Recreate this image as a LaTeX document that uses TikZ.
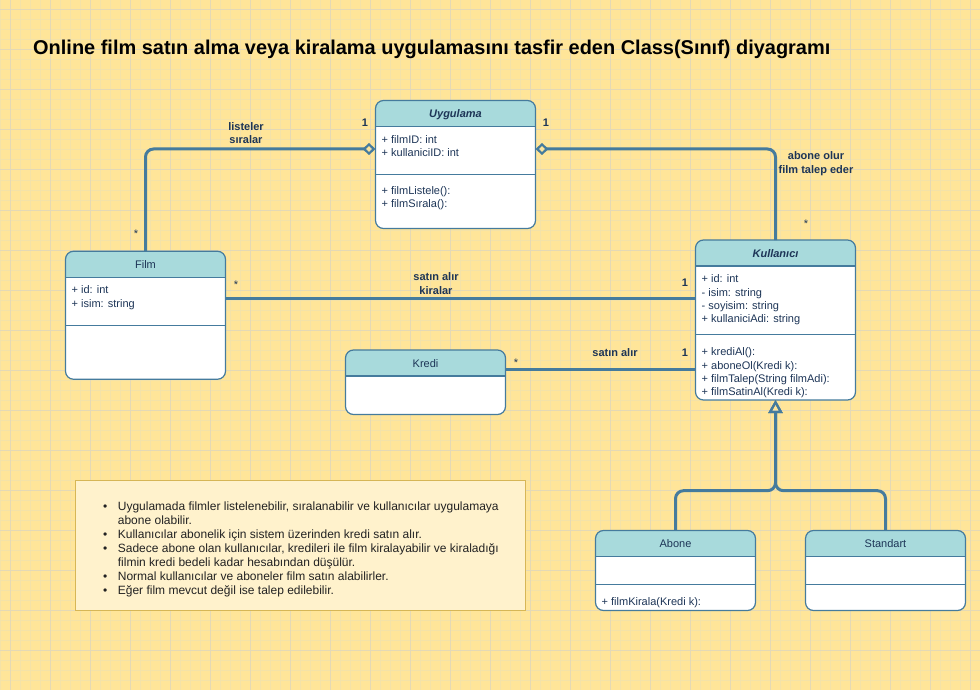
\documentclass[tikz,border=0pt]{standalone}
\usepackage{fontspec}
\setmainfont{Liberation Sans}
\usetikzlibrary{arrows.meta,calc}
\definecolor{bgc}{HTML}{FFE599}
\definecolor{gridminor}{HTML}{F4E2A8}
\definecolor{gridmajor}{HTML}{E4D9B6}
\definecolor{hdrc}{HTML}{A8DADC}
\definecolor{strokec}{HTML}{457B9D}
\definecolor{txtc}{HTML}{1D3557}
\definecolor{notefill}{HTML}{FFF2CC}
\definecolor{notestroke}{HTML}{D6B656}
\definecolor{notetext}{HTML}{222222}
\tikzset{
  classbody/.style={fill=white, rectangle, rounded corners=8pt, inner sep=0pt, outer sep=0pt},
  boxline/.style={draw=strokec, line width=1.2pt},
  conn/.style={draw=strokec, line width=3pt, rounded corners=8pt},
  memb/.style={anchor=base west, text=txtc, font=\fontsize{11}{13}\selectfont, inner sep=0pt},
  hdrtxt/.style={anchor=base, text=txtc, font=\fontsize{11}{13}\selectfont, inner sep=0pt},
  hdrabs/.style={anchor=base, text=txtc, font=\fontsize{11}{13}\selectfont\bfseries\itshape, inner sep=0pt},
  elabel/.style={text=txtc, font=\fontsize{11}{13.4}\selectfont\bfseries, align=center, inner sep=0pt},
  mult/.style={text=txtc, font=\fontsize{11}{13}\selectfont\bfseries, inner sep=0pt},
  starlbl/.style={text=txtc, font=\fontsize{11}{13}\selectfont, inner sep=0pt},
  notetxt/.style={anchor=base west, text=notetext, font=\fontsize{12}{14}\selectfont, inner sep=0pt},
  diam/.tip={Diamond[open, length=13pt, width=12pt, line width=2.2pt]},
  tri/.tip={Triangle[open, length=13pt, width=14pt, line width=2.2pt]},
}
\newcommand{\umlclassbox}[6]{%
  \node[classbody, minimum width=#3pt, minimum height=#4pt] (#1) at (#2) {};
  \begin{scope}
    \clip[rounded corners=8pt] (#1.north west) rectangle (#1.south east);
    \fill[hdrc] (#1.north west) rectangle ($(#1.north east)+(0,26)$);
  \end{scope}
  \draw[boxline, rounded corners=8pt] (#1.north west) rectangle (#1.south east);
  \draw[boxline] ($(#1.north west)+(0,26)$) -- ($(#1.north east)+(0,26)$);
  \node[#5] (#1-t) at ($(#1.north)+(0,17)$) {#6};
}
\newcommand{\umldivider}[2]{%
  \draw[boxline] ($(#1.north west)+(0,#2)$) -- ($(#1.north east)+(0,#2)$);
}
\begin{document}
\begin{tikzpicture}[x=1pt, y=-1pt]
\useasboundingbox (0,0) rectangle (980,690);
\fill[bgc] (0,0) rectangle (980,690);
% grid
\foreach \x in {0,10,...,980} \draw[gridminor, line width=1pt] (\x,0) -- (\x,690);
\foreach \y in {0,10,...,690} \draw[gridminor, line width=1pt] (0,\y) -- (980,\y);
\foreach \x in {10,50,...,970} \draw[gridmajor, line width=1pt] (\x,0) -- (\x,690);
\foreach \y in {10,50,...,690} \draw[gridmajor, line width=1pt] (0,\y) -- (980,\y);

% title
\node[anchor=base west, inner sep=0pt, font=\fontsize{19.95}{23}\selectfont\bfseries, text=black] (title) at (33,55)
  {Online film satın alma veya kiralama uygulamasını tasfir eden Class(Sınıf) diyagramı};

% classes
\umlclassbox{uyg}{455.5,164.5}{160}{128}{hdrabs}{Uygulama}
\umldivider{uyg}{74}
\node[memb] (uyg-a1) at ($(uyg.north west)+(6,42.5)$) {+ filmID: int};
\node[memb] (uyg-a2) at ($(uyg.north west)+(6,55.9)$) {+ kullaniciID: int};
\node[memb] (uyg-m1) at ($(uyg.north west)+(6,93.5)$) {+ filmListele():};
\node[memb] (uyg-m2) at ($(uyg.north west)+(6,106.9)$) {+ filmSırala():};

\umlclassbox{film}{145.5,315.25}{160}{128}{hdrtxt}{Film}
\umldivider{film}{74}
\node[memb] (film-a1) at ($(film.north west)+(6,42.7)$) {+ id: int};
\node[memb] (film-a2) at ($(film.north west)+(6,56.1)$) {+ isim: string};

\umlclassbox{kul}{775.5,320}{160}{160}{hdrabs}{Kullanıcı}
\umldivider{kul}{94.3}
\node[memb] (kul-a1) at ($(kul.north west)+(6,42.7)$) {+ id: int};
\node[memb] (kul-a2) at ($(kul.north west)+(6,56.1)$) {- isim: string};
\node[memb] (kul-a3) at ($(kul.north west)+(6,69.5)$) {- soyisim: string};
\node[memb] (kul-a4) at ($(kul.north west)+(6,82.9)$) {+ kullaniciAdi: string};
\node[memb] (kul-m1) at ($(kul.north west)+(6,115.6)$) {+ krediAl():};
\node[memb] (kul-m2) at ($(kul.north west)+(6,129)$) {+ aboneOl(Kredi k):};
\node[memb] (kul-m3) at ($(kul.north west)+(6,142.4)$) {+ filmTalep(String filmAdi):};
\node[memb] (kul-m4) at ($(kul.north west)+(6,155.8)$) {+ filmSatinAl(Kredi k):};

\umlclassbox{kredi}{425.5,382.25}{160}{64.5}{hdrtxt}{Kredi}

\umlclassbox{abone}{675.5,570.5}{160}{80}{hdrtxt}{Abone}
\umldivider{abone}{54}
\node[memb] (abone-m1) at ($(abone.north west)+(6,75.2)$) {+ filmKirala(Kredi k):};

\umlclassbox{std}{885.5,570.5}{160}{80}{hdrtxt}{Standart}
\umldivider{std}{54}

% connectors
\coordinate (uygL) at ($(uyg.north west)+(0,48.5)$);
\coordinate (uygR) at ($(uyg.north east)+(0,48.5)$);
\coordinate (filmE) at ($(film.north east)+(0,47)$);
\coordinate (krediE) at ($(kredi.north east)+(0,19.3)$);
\coordinate (jn) at (775.5,490.7);

\draw[conn, -{diam}] (film.north) |- (uygL);
\draw[conn, {diam}-] (uygR) -| (kul.north);
\draw[conn] (filmE) -- (kul.west |- filmE);
\draw[conn] (krediE) -- (kul.west |- krediE);
\draw[conn, -{tri}] (abone.north) |- (jn) -- (kul.south);
\draw[conn, -{tri}] (std.north) |- (jn) -- (kul.south);

% labels
\node[elabel] (l1) at (246,133) {listeler\\sıralar};
\node[elabel] (l2) at (816,163.5) {abone olur\\film talep eder};
\node[elabel] (l3) at (436,283.5) {satın alır\\kiralar};
\node[elabel] (l4) at (615,353) {satın alır};

\node[mult] (m1) at (365,123) {1};
\node[mult] (m2) at (546,123) {1};
\node[mult] (m3) at (685,283) {1};
\node[mult] (m4) at (685,353) {1};
\node[starlbl] (s1) at (136,234) {*};
\node[starlbl] (s2) at (236,285) {*};
\node[starlbl] (s3) at (516,363) {*};
\node[starlbl] (s4) at (806,224) {*};

% note
\node[draw=notestroke, fill=notefill, line width=1pt, minimum width=450pt, minimum height=129.5pt, inner sep=0pt] (note) at (300.7,545.3) {};
\node[notetxt] (b1) at (103,510) {•};
\node[notetxt] (b3) at (103,538) {•};
\node[notetxt] (b4) at (103,552) {•};
\node[notetxt] (b6) at (103,580) {•};
\node[notetxt] (b7) at (103,594) {•};
\node[notetxt] (t1) at (117.7,510) {Uygulamada filmler listelenebilir, sıralanabilir ve kullanıcılar uygulamaya};
\node[notetxt] (t2) at (117.7,524) {abone olabilir.};
\node[notetxt] (t3) at (117.7,538) {Kullanıcılar abonelik için sistem üzerinden kredi satın alır.};
\node[notetxt] (t4) at (117.7,552) {Sadece abone olan kullanıcılar, kredileri ile film kiralayabilir ve kiraladığı};
\node[notetxt] (t5) at (117.7,566) {filmin kredi bedeli kadar hesabından düşülür.};
\node[notetxt] (t6) at (117.7,580) {Normal kullanıcılar ve aboneler film satın alabilirler.};
\node[notetxt] (t7) at (117.7,594) {Eğer film mevcut değil ise talep edilebilir.};
\end{tikzpicture}
\end{document}
